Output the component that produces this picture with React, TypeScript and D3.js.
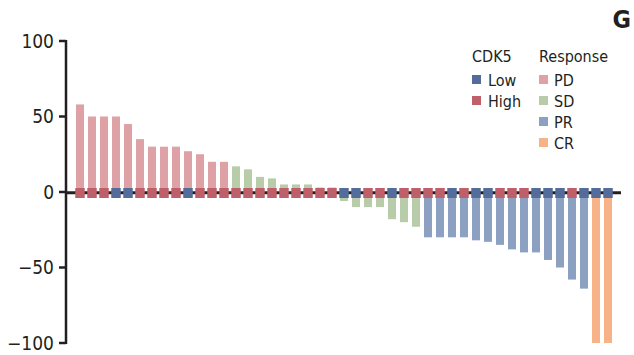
import React from "react";
import * as d3 from "d3";

// Waterfall of best change per patient, ordered from largest growth to deepest response
const changes = [
  58, 50, 50, 50, 45, 35, 30, 30, 30, 27, 25, 20, 20,
  17, 15, 10, 9, 5, 5, 5, 3, 3, -6, -10, -10, -10, -18, -20, -23,
  -30, -30, -30, -30, -32, -33, -35, -38, -40, -40, -45, -50, -58, -64,
  -100, -100,
];
const responses = [
  "PD", "PD", "PD", "PD", "PD", "PD", "PD", "PD", "PD", "PD", "PD", "PD", "PD",
  "SD", "SD", "SD", "SD", "SD", "SD", "SD", "SD", "SD", "SD", "SD", "SD", "SD", "SD", "SD", "SD",
  "PR", "PR", "PR", "PR", "PR", "PR", "PR", "PR", "PR", "PR", "PR", "PR", "PR", "PR",
  "CR", "CR",
];
const cdk5 = [
  "High", "High", "High", "Low", "Low", "High", "High", "High", "High", "Low", "High", "High", "High",
  "High", "High", "High", "High", "High", "High", "High", "High", "High", "Low", "Low", "High", "High", "Low", "High", "High",
  "High", "High", "Low", "High", "Low", "Low", "High", "High", "High", "Low", "Low", "Low", "High", "Low",
  "Low", "Low",
];
const yTicks = [-100, -50, 0, 50, 100];
const responseKeys = ["PD", "SD", "PR", "CR"];
const cdk5Keys = ["Low", "High"];

const responseColor: Record<string, string> = {
  PD: "#dda1a6",
  SD: "#b9cca9",
  PR: "#8ca0c1",
  CR: "#f7b387",
};
const cdk5Color: Record<string, string> = {
  Low: "#546c9a",
  High: "#bf5f6a",
};

const W = 634;
const H = 355;
const FONT = "'Liberation Sans Narrow', 'DejaVu Sans Condensed', 'Liberation Sans', sans-serif";
const INK = "#231f20";

export default function App() {
  const idx = changes.map((_, i) => i);
  const x = d3
    .scaleBand<number>()
    .domain(idx)
    .range([70, 618])
    .paddingInner(1 / 3)
    .paddingOuter(0.5);
  const y = d3.scaleLinear().domain([-100, 100]).range([343, 41]);
  const fmt = d3.format("d");
  const y0 = y(0);
  const axisX = 66;
  const mw = 9.5;
  const mh = 10;

  return (
    <svg
      width={W}
      height={H}
      style={{ position: "absolute", left: 0, top: 0, background: "#fff" }}
      fontFamily={FONT}
    >
      {/* bars */}
      {changes.map((v, i) => (
        <rect
          key={"b" + i}
          x={x(i)}
          y={Math.min(y(v), y0)}
          width={x.bandwidth()}
          height={Math.abs(y(v) - y0)}
          fill={responseColor[responses[i]]}
        />
      ))}

      {/* zero line */}
      <line x1={axisX} x2={621} y1={y0 + 0.8} y2={y0 + 0.8} stroke={INK} strokeWidth={3} />

      {/* CDK5 markers on the zero line */}
      {cdk5.map((c, i) => (
        <rect
          key={"m" + i}
          x={(x(i) as number) + x.bandwidth() / 2 - mw / 2}
          y={y0 + 1 - mh / 2}
          width={mw}
          height={mh}
          fill={cdk5Color[c]}
        />
      ))}

      {/* y axis */}
      <line x1={axisX} x2={axisX} y1={y(100) - 1} y2={y(-100) + 1} stroke={INK} strokeWidth={2.5} />
      {yTicks.map((t) => (
        <g key={"t" + t}>
          <line x1={59} x2={axisX} y1={y(t)} y2={y(t)} stroke={INK} strokeWidth={2.5} />
          <text
            x={54}
            y={y(t)}
            dy="0.36em"
            textAnchor="end"
            fontSize={19}
            fill={INK}
          >
            {fmt(t)}
          </text>
        </g>
      ))}

      {/* panel letter */}
      <text x={631} y={28} textAnchor="end" fontSize={25} fontWeight="bold" fill={INK}>
        G
      </text>

      {/* legends */}
      <text x={472} y={62} fontSize={16} fill={INK}>CDK5</text>
      {cdk5Keys.map((k, i) => (
        <g key={"lc" + k}>
          <rect x={472} y={75 + i * 21} width={9} height={9} fill={cdk5Color[k]} />
          <text x={488} y={86 + i * 21} fontSize={16} fill={INK}>{k}</text>
        </g>
      ))}
      <text x={539} y={62} fontSize={16} fill={INK}>Response</text>
      {responseKeys.map((k, i) => (
        <g key={"lr" + k}>
          <rect x={539} y={75 + i * 21} width={9} height={9} fill={responseColor[k]} />
          <text x={554} y={86 + i * 21} fontSize={16} fill={INK}>{k}</text>
        </g>
      ))}
    </svg>
  );
}
